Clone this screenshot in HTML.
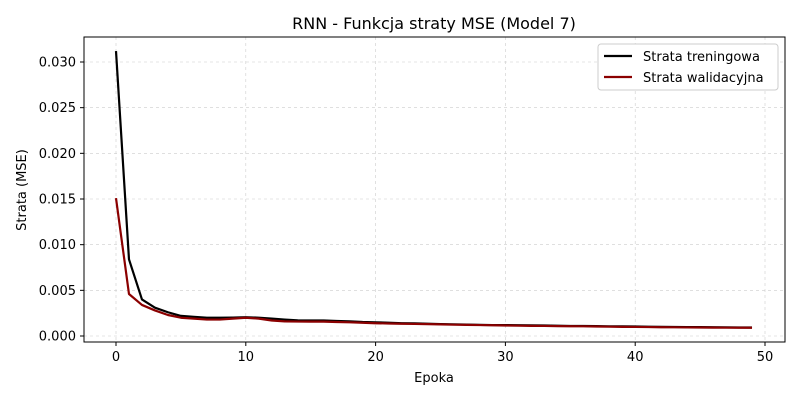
<!DOCTYPE html>
<html><head><meta charset="utf-8"><style>
body{margin:0;background:#fff;}
svg text{font-family:"DejaVu Sans","Liberation Sans",sans-serif;}
</style></head><body>
<svg id="chart" width="800" height="400" xmlns="http://www.w3.org/2000/svg">
<rect width="800" height="400" fill="#fff"/>
<text x="434" y="29" text-anchor="middle" font-size="16">RNN - Funkcja straty MSE (Model 7)</text>
<g id="grid"></g><g id="axes"></g><g id="series"></g>
<rect x="84" y="37" width="701" height="305" fill="none" stroke="#000" stroke-width="1"/>
<text x="434" y="382" text-anchor="middle" font-size="13">Epoka</text>
<text transform="translate(26,190) rotate(-90)" text-anchor="middle" font-size="13">Strata (MSE)</text>
<g>
<rect x="598" y="44" width="180" height="46" rx="3" fill="#fff" stroke="#ccc"/>
<line x1="604" y1="56" x2="632" y2="56" stroke="#000" stroke-width="2.2"/>
<text x="643" y="61" font-size="13">Strata treningowa</text>
<line x1="604" y1="77" x2="632" y2="77" stroke="#8b0000" stroke-width="2.2"/>
<text x="643" y="82" font-size="13">Strata walidacyjna</text>
</g>
</svg>
<script>
const xTicks=[0,10,20,30,40,50];
const yTicks=[0,0.005,0.010,0.015,0.020,0.025,0.030];
const yLabels=["0.000","0.005","0.010","0.015","0.020","0.025","0.030"];
const trainLoss=[0.0312,0.0084,0.0040,0.0031,0.0026,0.0022,0.0021,0.0020,0.0020,0.00202,0.00206,0.0020,0.0019,0.0018,0.00172,0.0017,0.0017,0.00165,0.0016,0.00153,0.0015,0.00145,0.0014,0.00138,0.00135,0.0013,0.00128,0.00125,0.00122,0.0012,0.0012,0.00118,0.00116,0.00115,0.00112,0.0011,0.0011,0.00108,0.00106,0.00105,0.00104,0.00102,0.001,0.00099,0.00098,0.00097,0.00096,0.00095,0.00094,0.00093];
const valLoss=[0.0151,0.0046,0.0034,0.0028,0.0023,0.0020,0.0019,0.0018,0.0018,0.0019,0.0020,0.0019,0.0017,0.0016,0.00158,0.00157,0.00157,0.00153,0.0015,0.00145,0.0014,0.00137,0.00134,0.00132,0.0013,0.00127,0.00124,0.00122,0.0012,0.00118,0.00115,0.00113,0.00111,0.0011,0.00108,0.00107,0.00106,0.00104,0.00102,0.001,0.00099,0.00098,0.00096,0.00095,0.00094,0.00093,0.00092,0.00091,0.0009,0.0009];
const X=v=>116+v*(765-116)/50;
const Y=v=>336-v*(336-62)/0.030;
const ns="http://www.w3.org/2000/svg";
function mk(t,a,p){const e=document.createElementNS(ns,t);for(const k in a)e.setAttribute(k,a[k]);p.appendChild(e);return e;}
const g=document.getElementById('grid'),ax=document.getElementById('axes'),s=document.getElementById('series');
xTicks.forEach(t=>{
 const l=mk('line',{x1:X(t),x2:X(t),y1:37,y2:342,stroke:'#ccc','stroke-dasharray':'3,3','stroke-width':0.6},g);
 
 
 mk('line',{x1:X(t),x2:X(t),y1:342,y2:346,stroke:'#000'},ax);
 const tx=mk('text',{x:X(t),y:361,'text-anchor':'middle','font-size':13},ax);tx.textContent=t;
 
 
});
yTicks.forEach((t,i)=>{
 const l=mk('line',{x1:84,x2:785,y1:Y(t),y2:Y(t),stroke:'#ccc','stroke-dasharray':'3,3','stroke-width':0.6},g);
 
 
 mk('line',{x1:80,x2:84,y1:Y(t),y2:Y(t),stroke:'#000'},ax);
 const tx=mk('text',{x:76,y:Y(t)+4.5,'text-anchor':'end','font-size':13},ax);tx.textContent=yLabels[i];
 
 
});
function line(d,c,n){const p=mk('polyline',{points:d.map((v,i)=>X(i)+','+Y(v)).join(' '),fill:'none',stroke:c,'stroke-width':2.2,'stroke-linejoin':'round'},s);
 
 }
line(trainLoss,'#000','train-loss-line');
line(valLoss,'#8b0000','val-loss-line');
</script>
</body></html>
